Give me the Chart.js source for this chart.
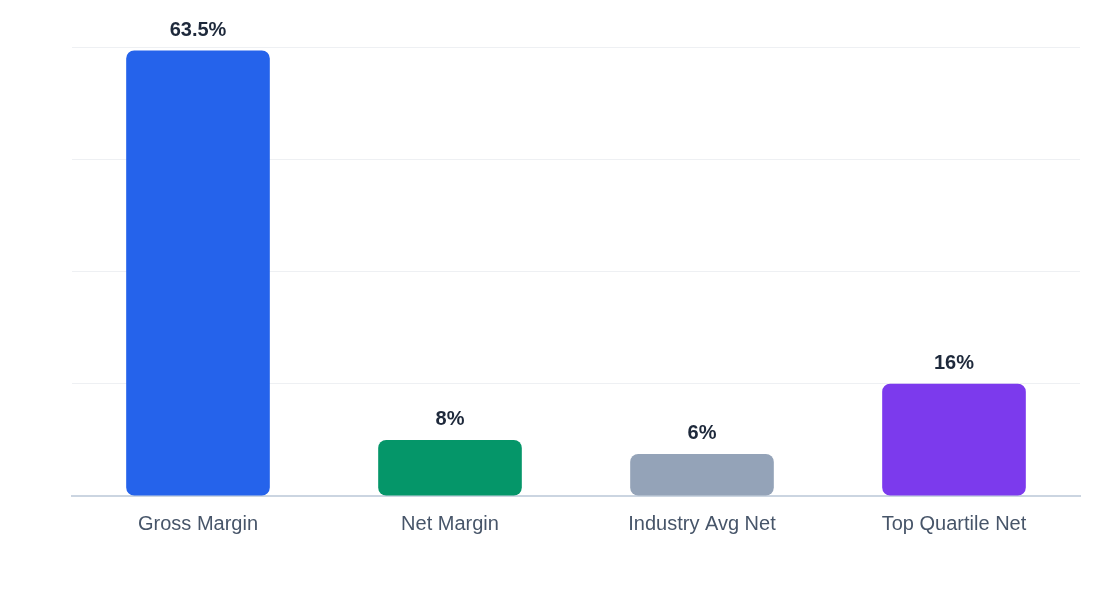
<!DOCTYPE html>
<html>
<head>
<meta charset="utf-8">
<script src="https://cdn.jsdelivr.net/npm/chart.js@4"></script>
<style>
  html, body { margin: 0; padding: 0; background: #fff; }
  #wrap { width: 1120px; height: 600px; }
</style>
</head>
<body>
<div id="wrap"><canvas id="myChart" width="1120" height="600"></canvas></div>
<script>
const categories = ['Gross Margin', 'Net Margin', 'Industry Avg Net', 'Top Quartile Net'];
const margins = [63.5, 8, 6, 16];
const barColors = ['#2563eb', '#059669', '#94a3b8', '#7c3aed'];

// value labels above each bar
const valueLabels = {
    id: 'valueLabels',
    afterDatasetsDraw(chart) {
        const ctx = chart.ctx;
        const meta = chart.getDatasetMeta(0);
        ctx.save();
        ctx.font = 'bold 20px "Liberation Sans", Arial, sans-serif';
        ctx.fillStyle = '#1e293b';
        ctx.textAlign = 'center';
        ctx.textBaseline = 'bottom';
        meta.data.forEach((bar, i) => {
            ctx.fillText(margins[i] + '%', bar.x, bar.y - 10);
        });
        ctx.restore();
    }
};

const ctx = document.getElementById('myChart').getContext('2d');
new Chart(ctx, {
    type: 'bar',
    data: {
        labels: categories,
        datasets: [{
            data: margins,
            backgroundColor: barColors,
            borderRadius: 8,
            borderSkipped: false,
            barPercentage: 0.57,
            categoryPercentage: 1
        }]
    },
    options: {
        responsive: false,
        animation: false,
        layout: { padding: { left: 72, right: 40, top: 47, bottom: 56 } },
        plugins: { legend: { display: false }, tooltip: { enabled: false } },
        scales: {
            x: {
                grid: { display: false },
                border: { color: '#cbd5e1', width: 2 },
                ticks: {
                    color: '#475569',
                    font: { size: 20, family: '"Liberation Sans", Arial, sans-serif' },
                    padding: 8
                }
            },
            y: {
                min: 0,
                max: 64,
                ticks: { stepSize: 16, display: false },
                grid: { color: '#eef0f3', drawTicks: false },
                border: { display: false }
            }
        }
    },
    plugins: [valueLabels]
});
</script>
</body>
</html>
